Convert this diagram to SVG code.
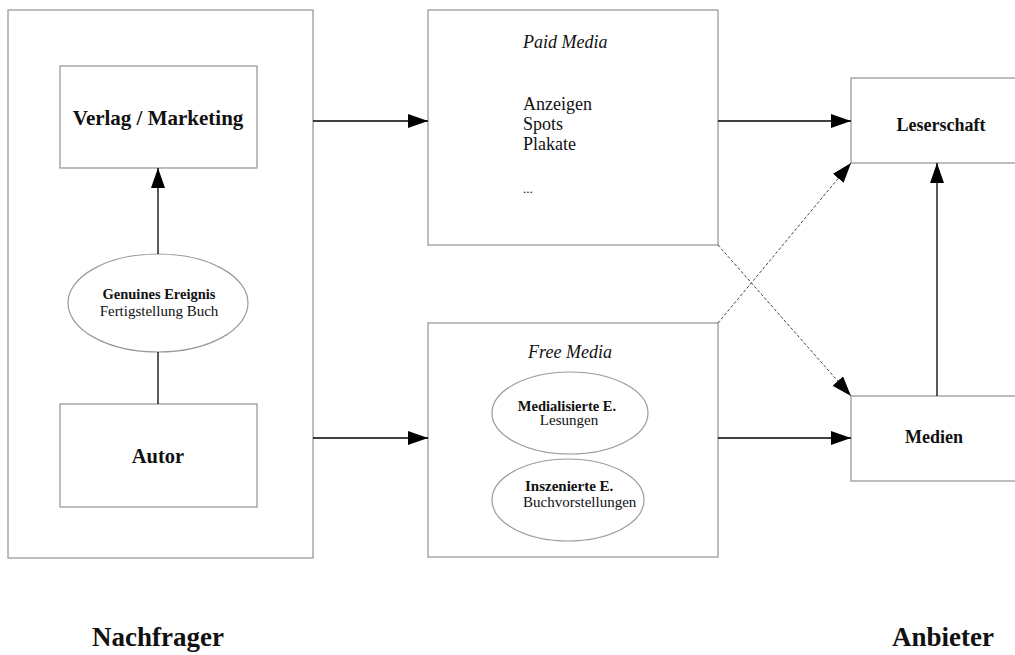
<svg xmlns="http://www.w3.org/2000/svg" width="1015" height="655" viewBox="0 0 1015 655">
<style>
.box{fill:#fff;stroke:#9a9a9a;stroke-width:1.3}
.ell{fill:#fff;stroke:#9a9a9a;stroke-width:1.2}
.t{font-family:"Liberation Serif",serif;fill:#111}
.b{font-weight:bold}
.i{font-style:italic}
.c{stroke:#000;stroke-width:1.3;fill:none}
.d{stroke:#444;stroke-width:1;fill:none;stroke-dasharray:3,2}
</style>
<defs>
<marker id="ah" viewBox="0 0 20 14" refX="20" refY="7" markerWidth="20" markerHeight="14" markerUnits="userSpaceOnUse" orient="auto">
<path d="M0,0 L20,7 L0,14 Z" fill="#000"/>
</marker>
</defs>
<rect width="1015" height="655" fill="#fff"/>
<g id="nachfrager-box"><rect class="box" x="8" y="10" width="305" height="548"/></g>
<g id="verlag"><rect class="box" x="60" y="66" width="197" height="102"/>
<text class="t b" x="158" y="125" font-size="21" text-anchor="middle">Verlag / Marketing</text></g>
<g id="genuines"><ellipse class="ell" cx="158" cy="303" rx="90" ry="49"/>
<text class="t b" x="159" y="299" font-size="14.5" text-anchor="middle">Genuines Ereignis</text>
<text class="t" x="159" y="316" font-size="15" text-anchor="middle">Fertigstellung Buch</text></g>
<g id="autor"><rect class="box" x="60" y="404" width="197" height="103"/>
<text class="t b" x="158" y="463" font-size="20.5" text-anchor="middle">Autor</text></g>
<g id="paid"><rect class="box" x="428" y="10" width="290" height="235"/>
<text class="t i" x="523" y="48" font-size="18">Paid Media</text>
<text class="t" x="523" y="110" font-size="18">Anzeigen</text>
<text class="t" x="523" y="130" font-size="18">Spots</text>
<text class="t" x="523" y="150" font-size="18">Plakate</text>
<text class="t" x="523" y="193" font-size="13">...</text></g>
<g id="free"><rect class="box" x="428" y="323" width="290" height="234"/>
<text class="t i" x="570" y="358" font-size="18" text-anchor="middle">Free Media</text>
<ellipse class="ell" cx="570" cy="413" rx="78" ry="41"/>
<text class="t b" x="567" y="411" font-size="14.5" text-anchor="middle">Medialisierte E.</text>
<text class="t" x="569" y="425" font-size="15" text-anchor="middle">Lesungen</text>
<ellipse class="ell" cx="568" cy="500" rx="76" ry="41"/>
<text class="t b" x="525" y="491" font-size="15">Inszenierte E.</text>
<text class="t" x="523" y="507" font-size="15">Buchvorstellungen</text></g>
<g id="leserschaft"><rect class="box" x="851" y="78" width="175" height="85"/>
<text class="t b" x="941" y="131" font-size="18" text-anchor="middle">Leserschaft</text></g>
<g id="medien"><rect class="box" x="851" y="396" width="175" height="85"/>
<text class="t b" x="934" y="443" font-size="18" text-anchor="middle">Medien</text></g>
<g id="labels">
<text class="t b" x="158" y="646" font-size="27" text-anchor="middle">Nachfrager</text>
<text class="t b" x="943" y="646" font-size="27" text-anchor="middle">Anbieter</text>
</g>
<g id="connectors">
<line class="c" x1="158" y1="254" x2="158" y2="168" marker-end="url(#ah)"/>
<line class="c" x1="158" y1="352" x2="158" y2="404"/>
<line class="c" x1="313" y1="121" x2="428" y2="121" marker-end="url(#ah)"/>
<line class="c" x1="313" y1="438" x2="428" y2="438" marker-end="url(#ah)"/>
<line class="c" x1="718" y1="121" x2="851" y2="121" marker-end="url(#ah)"/>
<line class="c" x1="718" y1="438" x2="851" y2="438" marker-end="url(#ah)"/>
<line class="c" x1="937" y1="396" x2="937" y2="163" marker-end="url(#ah)"/>
<line class="d" x1="718" y1="245" x2="851" y2="396" marker-end="url(#ah)"/>
<line class="d" x1="718" y1="323" x2="851" y2="163" marker-end="url(#ah)"/>
</g>
</svg>
